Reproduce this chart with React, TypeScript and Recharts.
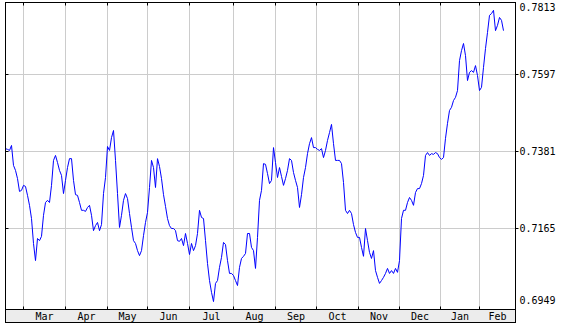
import { CartesianGrid, Line, LineChart, ReferenceLine, XAxis, YAxis } from "recharts";

// daily closes, one entry per trading day
const rates = [
  0.7389, 0.7387, 0.7384, 0.7398, 0.7342, 0.7328, 0.7305, 0.7269, 0.7272, 0.7286,
  0.7283, 0.7258, 0.723, 0.7193, 0.7123, 0.7075, 0.7137, 0.7131, 0.7143, 0.7202,
  0.7238, 0.7244, 0.7238, 0.7286, 0.7356, 0.737, 0.735, 0.7328, 0.7314, 0.7263,
  0.73, 0.7336, 0.7361, 0.7361, 0.73, 0.726, 0.7258, 0.7238, 0.7216, 0.7216,
  0.7213, 0.7224, 0.723, 0.7202, 0.7159, 0.7173, 0.7182, 0.7159, 0.7176, 0.7263,
  0.7308, 0.7395, 0.7384, 0.742, 0.744, 0.7356, 0.7263, 0.7168, 0.7202, 0.7244,
  0.7263, 0.7249, 0.7207, 0.7168, 0.7131, 0.7123, 0.7103, 0.7089, 0.7103, 0.7145,
  0.7182, 0.721, 0.728, 0.7356, 0.7336, 0.728, 0.7361, 0.7339, 0.7305, 0.726,
  0.7227, 0.7193, 0.7173, 0.7165, 0.7165, 0.7159, 0.7131, 0.7129, 0.7137, 0.7117,
  0.7151, 0.7123, 0.7092, 0.7123, 0.7103, 0.7117, 0.7151, 0.7216, 0.7196, 0.7193,
  0.7131, 0.7067, 0.7019, 0.6986, 0.696, 0.7011, 0.7019, 0.7056, 0.7084, 0.7126,
  0.712, 0.7075, 0.7039, 0.7039, 0.7033, 0.7019, 0.7005, 0.7056, 0.7081, 0.7087,
  0.7095, 0.7151, 0.7151, 0.7112, 0.7103, 0.7053, 0.714, 0.7244, 0.7272, 0.7347,
  0.7345, 0.7319, 0.7291, 0.73, 0.7392, 0.735, 0.7308, 0.7336, 0.7311, 0.7286,
  0.7305, 0.7328, 0.7361, 0.7356, 0.7322, 0.73, 0.728, 0.7224, 0.726, 0.7308,
  0.7336, 0.7375, 0.7403, 0.742, 0.7392, 0.7392, 0.7387, 0.7384, 0.7389, 0.7364,
  0.7384, 0.7412, 0.7434, 0.7457, 0.7403, 0.7356, 0.7356, 0.7356, 0.7347, 0.7294,
  0.7216, 0.7207, 0.7216, 0.7207, 0.7176, 0.7154, 0.714, 0.714, 0.7112, 0.7087,
  0.7165, 0.7131, 0.7098, 0.7081, 0.7103, 0.7047, 0.7028, 0.7011, 0.7019, 0.7028,
  0.7039, 0.7053, 0.7039, 0.7047, 0.7039, 0.7053, 0.7042, 0.7075, 0.7193, 0.7216,
  0.7216, 0.7238, 0.7252, 0.7244, 0.723, 0.7266, 0.7277, 0.7277, 0.7291, 0.7314,
  0.737, 0.7378, 0.737, 0.7375, 0.7373, 0.7378, 0.7375, 0.7364, 0.7359, 0.7364,
  0.7418, 0.746, 0.7496, 0.7505, 0.7524, 0.7533, 0.7552, 0.7636, 0.7664, 0.7684,
  0.765, 0.758, 0.7603, 0.7608, 0.7603, 0.7622, 0.7594, 0.7552, 0.7561, 0.7617,
  0.767, 0.7715, 0.7763, 0.7768, 0.7777, 0.772, 0.7735, 0.7757, 0.7749, 0.772,
];

// month boundaries and label centres, in trading-day index
const monthStarts = [9, 30, 51, 71, 92, 114, 135, 155.5, 176.5, 197, 217.5, 237];
const monthNames = ["Mar", "Apr", "May", "Jun", "Jul", "Aug", "Sep", "Oct", "Nov", "Dec", "Jan", "Feb"];
const monthCentres = [19.5, 40.5, 61, 81.5, 103, 124.5, 145.25, 166, 186.75, 207.25, 227.25, 246];

const priceTicks = [0.6949, 0.7165, 0.7381, 0.7597, 0.7813];
const gridTicks = [0.7165, 0.7381, 0.7597];

const data = rates.map((v, i) => ({ i, v }));

const X_DOMAIN: [number, number] = [0, 255];
const Y_DOMAIN: [number, number] = [0.69378, 0.7799];
const FONT = "'DejaVu Sans Mono', monospace";
const PLOT_TOP = 2.5;
const PLOT_LEFT = 5.5;

const MonthTick = ({ x, y, payload }: any) => {
  const idx = monthCentres.indexOf(payload.value);
  return (
    <text x={x} y={y + 5.5} textAnchor="middle" dominantBaseline="central" fontFamily={FONT} fontSize={10} fill="#000">
      {monthNames[idx]}
    </text>
  );
};

// small marks on the top and bottom frame at each month start
const BoundTick = ({ x, y }: any) => (
  <g stroke="#000">
    <line x1={x} y1={y} x2={x} y2={y - 3} />
    <line x1={x} y1={PLOT_TOP} x2={x} y2={PLOT_TOP + 3} />
  </g>
);

const PriceTick = ({ x, y, payload }: any) => {
  const inner = gridTicks.includes(payload.value);
  // edge labels are pulled inside the frame
  const ty = Math.max(7.5, Math.min(300, y));
  return (
    <g>
      {inner && <line x1={x} y1={y} x2={x + 3} y2={y} stroke="#000" />}
      {inner && <line x1={PLOT_LEFT} y1={y} x2={PLOT_LEFT + 3} y2={y} stroke="#000" />}
      <text x={x + 4} y={ty} textAnchor="start" dominantBaseline="central" fontFamily={FONT} fontSize={10} fill="#000">
        {payload.value.toFixed(4)}
      </text>
    </g>
  );
};

export default function App() {
  return (
    <div style={{ position: "absolute", left: 0, top: 0, width: 562, height: 326, background: "#fff" }}>
      <div
        style={{
          position: "absolute",
          left: 5,
          top: 309,
          width: 511,
          height: 14,
          boxSizing: "border-box",
          border: "1px solid #000",
          background: "#ececec",
        }}
      />
      <LineChart
        width={562}
        height={326}
        data={data}
        margin={{ top: PLOT_TOP, right: 0, bottom: 3.5, left: PLOT_LEFT }}
      >
        <CartesianGrid xAxisId="b" yAxisId="g" stroke="#cccccc" strokeWidth={1} />
        <XAxis xAxisId="b" orientation="bottom" height={1} type="number" dataKey="i" domain={X_DOMAIN}
          ticks={monthStarts} interval={0} tickLine={false} axisLine={false} tickSize={0} tickMargin={0}
          tick={<BoundTick />} />
        <XAxis xAxisId="m" orientation="bottom" height={12} type="number" dataKey="i" domain={X_DOMAIN}
          ticks={monthCentres} interval={0} tickLine={false} axisLine={false} tickSize={0} tickMargin={0}
          tick={<MonthTick />} />
        <YAxis yAxisId="g" orientation="left" mirror width={1} type="number" domain={Y_DOMAIN}
          ticks={gridTicks} interval={0} tick={false} tickLine={false} axisLine={false} allowDataOverflow />
        <YAxis yAxisId="r" orientation="right" width={46.5} type="number" domain={Y_DOMAIN}
          ticks={priceTicks} interval={0} tickLine={false} tickSize={0} tickMargin={0} stroke="#000"
          tick={<PriceTick />} allowDataOverflow />
        {gridTicks.map((g) => (
          <ReferenceLine key={`gy${g}`} xAxisId="b" yAxisId="r" y={g} stroke="#cccccc" />
        ))}
        <Line
          xAxisId="b"
          yAxisId="r"
          type="linear"
          dataKey="v"
          stroke="#0000ff"
          strokeWidth={1}
          dot={false}
          isAnimationActive={false}
        />
      </LineChart>
      <div
        style={{
          position: "absolute",
          left: 5,
          top: 2,
          width: 511,
          height: 308,
          boxSizing: "border-box",
          border: "1px solid #000",
          pointerEvents: "none",
        }}
      />
    </div>
  );
}
